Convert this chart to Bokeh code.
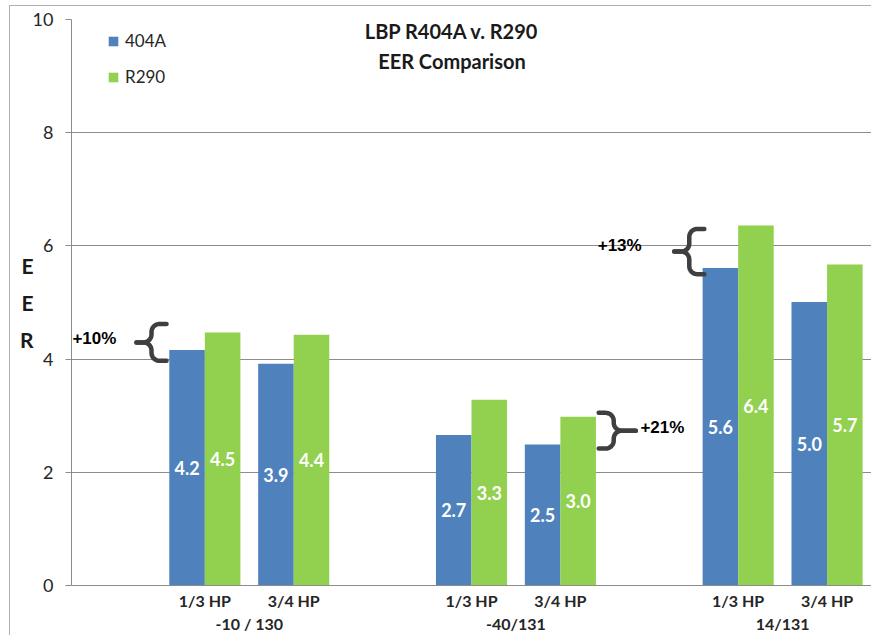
import numpy as np
from bokeh.plotting import figure
from bokeh.models import (Range1d, FixedTicker, LinearAxis, Label, Legend,
                          LegendItem, ColumnDataSource)
from bokeh.embed import file_html
from bokeh.resources import INLINE
from bokeh.core.properties import value

# ---------------- data ----------------
groups = ["-10 / 130", "-40/131", "14/131"]
sizes = ["1/3 HP", "3/4 HP"]
r404a = [4.16, 3.92, 2.66, 2.49, 5.61, 5.01]
r290 = [4.47, 4.43, 3.28, 2.98, 6.36, 5.67]
y_ticks = [0, 2, 4, 6, 8, 10]
series_names = ["404A", "R290"]

# annotations (percent gain notes drawn on the chart)
pct_texts = ["+10%", "+13%", "+21%"]

# ---------------- styling / layout ----------------
BLUE = "#4F81BD"
GREEN = "#92D050"
GRID = "#8c8c8c"
TXT = "#262626"
CAL = "Lato"
ARIAL = "Liberation Sans"
FRAME_LINE = "#b0b0b0"

W, H = 871, 635
PX_X = 88.7   # approx pixels per slot unit
PX_Y = 56.7   # approx pixels per EER unit

slots = [1.5 + 3 * g + i for g in range(len(groups)) for i in range(len(sizes))]
group_centers = [2.0 + 3 * g for g in range(len(groups))]
BW = 0.4

p = figure(width=W, height=H, x_range=Range1d(0, 9), y_range=Range1d(0, 10),
           output_backend="svg", toolbar_location=None,
           min_border_left=71, min_border_top=19, min_border_right=0,
           min_border_bottom=0, outline_line_color=None,
           background_fill_color="white", border_fill_color=None)
# thin outer chart-area border (left and top edges), drawn behind the canvas
p.styles = {
    "background": (f"linear-gradient({FRAME_LINE},{FRAME_LINE}) 9px 5px / 1px 100% no-repeat, "
                   f"linear-gradient({FRAME_LINE},{FRAME_LINE}) 9px 5px / 100% 1px no-repeat, white"),
}

src = ColumnDataSource(dict(
    xb=[s - BW / 2 for s in slots], xg=[s + BW / 2 for s in slots],
    b=r404a, g=r290,
    bm=[v / 2 for v in r404a], gm=[v / 2 for v in r290],
    bl=[f"{v:.1f}" for v in r404a], gl=[f"{v:.1f}" for v in r290],
))

rb = p.vbar(x="xb", top="b", width=BW, source=src, fill_color=BLUE, line_color=None)
rg = p.vbar(x="xg", top="g", width=BW, source=src, fill_color=GREEN, line_color=None)

for xcol, ycol, tcol in (("xb", "bm", "bl"), ("xg", "gm", "gl")):
    p.text(x=xcol, y=ycol, text=tcol, source=src, text_color="white",
           text_font=value(CAL), text_font_style="bold", text_font_size="18px",
           text_align="center", text_baseline="middle")

# ---------------- axes ----------------
p.yaxis.ticker = FixedTicker(ticks=y_ticks)
p.yaxis.axis_line_color = GRID
p.yaxis.major_tick_line_color = GRID
p.yaxis.major_tick_out = 6
p.yaxis.major_tick_in = 0
p.yaxis.minor_tick_line_color = None
p.yaxis.major_label_text_font = CAL
p.yaxis.major_label_text_font_size = "18px"
p.yaxis.major_label_text_color = TXT
p.yaxis.major_label_standoff = 12
p.yaxis.axis_label = "E\nE\nR"
p.yaxis.axis_label_orientation = "horizontal"
p.yaxis.axis_label_text_font = CAL
p.yaxis.axis_label_text_font_style = "bold"
p.yaxis.axis_label_text_font_size = "21px"
p.yaxis.axis_label_text_color = "#1a1a1a"
p.yaxis.axis_label_text_line_height = 1.48
p.yaxis.axis_label_standoff = -4

p.xaxis.ticker = FixedTicker(ticks=slots)
p.xaxis.major_label_overrides = {s: sizes[i % 2] for i, s in enumerate(slots)}
p.xaxis.axis_line_color = GRID
p.xaxis.major_tick_line_color = None
p.xaxis.minor_tick_line_color = None
p.xaxis.major_label_text_font = CAL
p.xaxis.major_label_text_font_style = "bold"
p.xaxis.major_label_text_font_size = "16px"
p.xaxis.major_label_text_color = TXT
p.xaxis.major_label_standoff = -1

gax = LinearAxis(ticker=FixedTicker(ticks=group_centers),
                 major_label_overrides={c: groups[i] for i, c in enumerate(group_centers)},
                 axis_line_color=None, major_tick_line_color=None,
                 minor_tick_line_color=None, major_label_text_font=CAL,
                 major_label_text_font_style="bold", major_label_text_font_size="16px",
                 major_label_text_color=TXT, major_label_standoff=-5)
p.add_layout(gax, "below")

p.ygrid.ticker = FixedTicker(ticks=y_ticks)
p.ygrid.grid_line_color = GRID
p.xgrid.visible = False

# ---------------- legend ----------------
legend = Legend(items=[LegendItem(label=series_names[0], renderers=[rb]),
                       LegendItem(label=series_names[1], renderers=[rg])],
                location=(36, 498), margin=0, padding=0, spacing=15,
                glyph_width=12, glyph_height=12, label_standoff=6,
                label_text_font=CAL, label_text_font_size="17px",
                label_text_color=TXT, background_fill_alpha=0,
                border_line_color=None)
p.add_layout(legend)

# ---------------- title ----------------
for txt, yy in (("LBP R404A v. R290", 9.79), ("EER Comparison", 9.26)):
    p.add_layout(Label(x=4.28, y=yy, text=txt, text_font=CAL, text_font_style="bold",
                       text_font_size="20px", text_color="#1a1a1a",
                       text_align="center", text_baseline="middle"))

# ---------------- braces & percent notes ----------------
braces = [
    dict(x=0.90, lo=3.97, hi=4.62, d=1, tip=15, tx=0.01, ty=4.36),
    dict(x=6.95, lo=5.50, hi=6.30, d=1, tip=15, tx=5.92, ty=6.01),
    dict(x=6.10, lo=2.42, hi=3.05, d=-1, tip=22, tx=6.40, ty=2.80),
]


def brace_paths(xv, lo, hi, d, tip, hook=15, r=8):
    mid = (lo + hi) / 2
    Hh = (hi - lo) / 2 * PX_Y
    pts = [(d * hook, Hh)]
    t1 = np.radians(np.linspace(90, 90 + 90 * d, 12))
    pts += list(zip(d * r + r * np.cos(t1), Hh - r + r * np.sin(t1)))
    s2 = 90 - 90 * d
    t2 = np.radians(np.linspace(s2, s2 - 90 * d, 12))
    pts += list(zip(-d * r + r * np.cos(t2), r + r * np.sin(t2)))
    pts.append((-d * tip, 0))
    xs = [xv + px / PX_X for px, _ in pts]
    top = [mid + py / PX_Y for _, py in pts]
    bot = [mid - py / PX_Y for _, py in pts]
    return [xs, xs], [top, bot]


bx, by = [], []
for b in braces:
    xs, ys = brace_paths(b["x"], b["lo"], b["hi"], b["d"], b["tip"])
    bx += xs
    by += ys
p.multi_line(xs=bx, ys=by, line_color="#3f3f3f", line_width=4.5,
             line_cap="round", line_join="round")

for txt, b in zip(pct_texts, braces):
    p.add_layout(Label(x=b["tx"], y=b["ty"], text=txt, text_font=ARIAL,
                       text_font_style="bold", text_font_size="17px",
                       text_color="black", text_align="left", text_baseline="middle"))

open("out.html", "w").write(file_html(p, INLINE))
